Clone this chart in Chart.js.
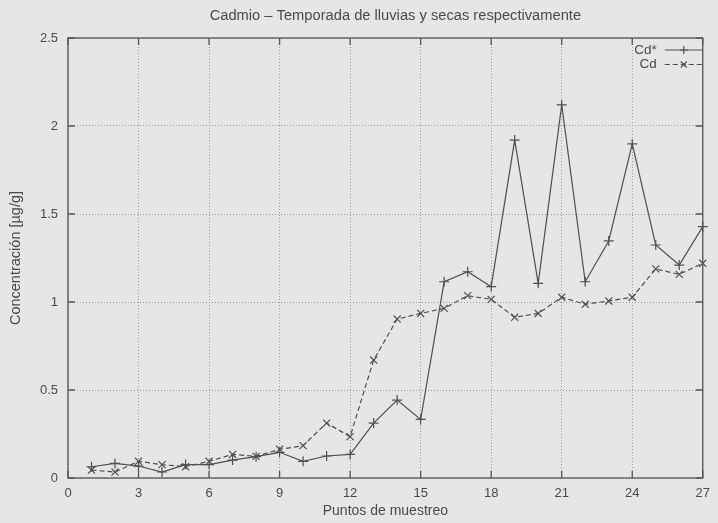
<!DOCTYPE html>
<html><head><meta charset="utf-8">
<script src="https://cdn.jsdelivr.net/npm/chart.js@4/dist/chart.umd.min.js"></script>
<style>
html,body{margin:0;padding:0;background:#e6e6e4;}
#wrap{width:718px;height:523px;}
</style></head>
<body><div id="wrap"><canvas id="c" width="718" height="523"></canvas></div>
<script>
const categories = [1,2,3,4,5,6,7,8,9,10,11,12,13,14,15,16,17,18,19,20,21,22,23,24,25,26,27];
const cdStar = [0.064,0.083,0.068,0.034,0.076,0.076,0.102,0.121,0.146,0.095,0.125,0.134,0.312,0.443,0.333,1.115,1.172,1.087,1.92,1.106,2.12,1.115,1.347,1.898,1.324,1.21,1.428];
const cd = [0.045,0.034,0.095,0.076,0.064,0.095,0.134,0.123,0.163,0.184,0.312,0.235,0.67,0.903,0.935,0.964,1.036,1.015,0.913,0.935,1.027,0.987,1.006,1.027,1.188,1.157,1.22];
const xTicks = [0,3,6,9,12,15,18,21,24,27];
const yTicks = [0,0.5,1,1.5,2,2.5];
const labels = ['Cd*','Cd'];
const titleText = 'Cadmio – Temporada de lluvias y secas respectivamente';
const xTitle = 'Puntos de muestreo';
const yTitle = 'Concentración [µg/g]';

const FONT = '"Liberation Sans", Arial, sans-serif';
const TXT = '#4a4a4a';
const LINE = '#505050';

const framePlugin = {
  id: 'frame',
  beforeDatasetsDraw(chart) {
    const {ctx, chartArea: a, scales} = chart;
    ctx.save();
    ctx.strokeStyle = '#555';
    ctx.lineWidth = 1.3;
    ctx.setLineDash([]);
    ctx.strokeRect(a.left, a.top, a.right - a.left, a.bottom - a.top);
    const L = 7;
    ctx.beginPath();
    scales.x.ticks.forEach(t => {
      const px = scales.x.getPixelForValue(t.value);
      ctx.moveTo(px, a.bottom); ctx.lineTo(px, a.bottom - L);
      ctx.moveTo(px, a.top); ctx.lineTo(px, a.top + L);
    });
    scales.y.ticks.forEach(t => {
      const py = scales.y.getPixelForValue(t.value);
      ctx.moveTo(a.left, py); ctx.lineTo(a.left + L, py);
      ctx.moveTo(a.right, py); ctx.lineTo(a.right - L, py);
    });
    ctx.stroke();
    ctx.restore();
  },
  afterDatasetsDraw(chart) {
    const {ctx, chartArea: a} = chart;
    ctx.save();
    // title
    ctx.font = '14.7px ' + FONT;
    ctx.fillStyle = TXT;
    ctx.textAlign = 'center';
    ctx.textBaseline = 'alphabetic';
    ctx.fillText(titleText, (a.left + a.right) / 2 + 10, a.top - 17.7);
    // legend
    ctx.font = '13.5px ' + FONT;
    ctx.textAlign = 'right';
    ctx.textBaseline = 'middle';
    chart.data.datasets.forEach((ds, i) => {
      const y = a.top + 12 + i * 14.5;
      const x0 = a.right - 38, x1 = a.right;
      ctx.fillText(ds.label, x0 - 8, y);
      ctx.strokeStyle = ds.borderColor;
      ctx.lineWidth = ds.borderWidth;
      ctx.setLineDash(ds.borderDash || []);
      ctx.beginPath(); ctx.moveTo(x0, y); ctx.lineTo(x1, y); ctx.stroke();
      ctx.setLineDash([]);
      const xm = (x0 + x1) / 2, r = 4;
      ctx.beginPath();
      if (ds.pointStyle === 'cross') {
        ctx.moveTo(xm - r, y); ctx.lineTo(xm + r, y);
        ctx.moveTo(xm, y - r); ctx.lineTo(xm, y + r);
      } else {
        ctx.moveTo(xm - r*0.75, y - r*0.75); ctx.lineTo(xm + r*0.75, y + r*0.75);
        ctx.moveTo(xm - r*0.75, y + r*0.75); ctx.lineTo(xm + r*0.75, y - r*0.75);
      }
      ctx.stroke();
    });
    ctx.restore();
  }
};

new Chart(document.getElementById('c'), {
  type: 'line',
  data: {
    datasets: [
      {label: labels[0], data: categories.map((x,i)=>({x, y: cdStar[i]})),
       borderColor: LINE, borderWidth: 1.2, pointStyle: 'cross', pointRadius: 5, clip: false,
       pointBorderColor: LINE, pointBorderWidth: 1.2, tension: 0, fill: false},
      {label: labels[1], data: categories.map((x,i)=>({x, y: cd[i]})),
       borderColor: LINE, borderWidth: 1.2, borderDash: [5,3], pointStyle: 'crossRot', pointRadius: 5, clip: false,
       pointBorderColor: LINE, pointBorderWidth: 1.2, tension: 0, fill: false}
    ]
  },
  plugins: [framePlugin],
  options: {
    responsive: false, animation: false,
    layout: {padding: {left: 0, right: 12, top: 38, bottom: 0}},
    plugins: {
      legend: {display: false},
      tooltip: {enabled: false},
      title: {display: false}
    },
    scales: {
      x: {type: 'linear', min: 0, max: 27,
          afterFit: s => { s.height = 45; },
          afterBuildTicks: s => { s.ticks = xTicks.map(v => ({value: v})); },
          ticks: {color: TXT, font: {family: FONT, size: 13}, padding: 8, maxRotation: 0,
                  callback: v => String(v)},
          grid: {color: '#9a9a9a', lineWidth: 1, drawTicks: false},
          border: {display: false, dash: [1,2]},
          title: {display: true, text: xTitle, color: TXT, font: {family: FONT, size: 14}, padding: {top: 0, bottom: 3}}
      },
      y: {type: 'linear', min: 0, max: 2.5,
          afterFit: s => { s.width = 68; },
          afterBuildTicks: s => { s.ticks = yTicks.map(v => ({value: v})); },
          ticks: {color: TXT, font: {family: FONT, size: 13}, padding: 10,
                  callback: v => String(v)},
          grid: {color: '#9a9a9a', lineWidth: 1, drawTicks: false},
          border: {display: false, dash: [1,2]},
          title: {display: true, text: yTitle, color: TXT, font: {family: FONT, size: 14.5}, padding: {top: 7, bottom: 0}}
      }
    }
  }
});
</script></body></html>
